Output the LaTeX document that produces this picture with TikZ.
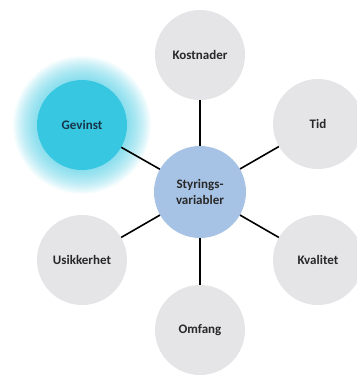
\documentclass[tikz,border=0pt]{standalone}
\usepackage{fontspec}
\setmainfont{Carlito}
\usetikzlibrary{positioning}
\definecolor{circgray}{RGB}{229,228,230}
\definecolor{midblue}{RGB}{166,195,229}
\definecolor{gevcyan}{RGB}{56,199,225}
\definecolor{txtgray}{RGB}{40,40,40}
\definecolor{txtnavy}{RGB}{24,52,72}
\tikzset{
  factor/.style={circle, fill=circgray, minimum size=90pt, inner sep=0pt,
    text=txtgray, font=\bfseries\fontsize{13}{15}\selectfont},
  hub/.style={circle, fill=midblue, minimum size=92pt, inner sep=0pt,
    text=txtgray, align=center, font=\bfseries\fontsize{13}{16}\selectfont},
  spoke/.style={line width=1.6pt, black}
}

\begin{document}
\begin{tikzpicture}[x=1pt, y=-1pt]
\useasboundingbox (0,0) rectangle (357,376);

% glow round Gevinst
\foreach \r in {1,...,24}
  \fill[gevcyan, opacity=0.035] (82,125) circle (45+\r);

\node[hub] (mid) at (200,192) {Styrings-\\variabler};
\node[factor] (kost) at (200,55)  {Kostnader};
\node[factor] (tid)  at (318,124) {Tid};
\node[factor] (kval) at (318,260) {Kvalitet};
\node[factor] (omf)  at (200,330) {Omfang};
\node[factor] (usik) at (82,260)  {Usikkerhet};
\node[factor, fill=gevcyan, text=txtnavy] (gev) at (82,125) {Gevinst};

\path[spoke] (mid) edge (kost);
\path[spoke] (mid) edge (tid);
\path[spoke] (mid) edge (kval);
\path[spoke] (mid) edge (omf);
\path[spoke] (mid) edge (usik);
\path[spoke] (mid) edge (gev);
\end{tikzpicture}
\end{document}
